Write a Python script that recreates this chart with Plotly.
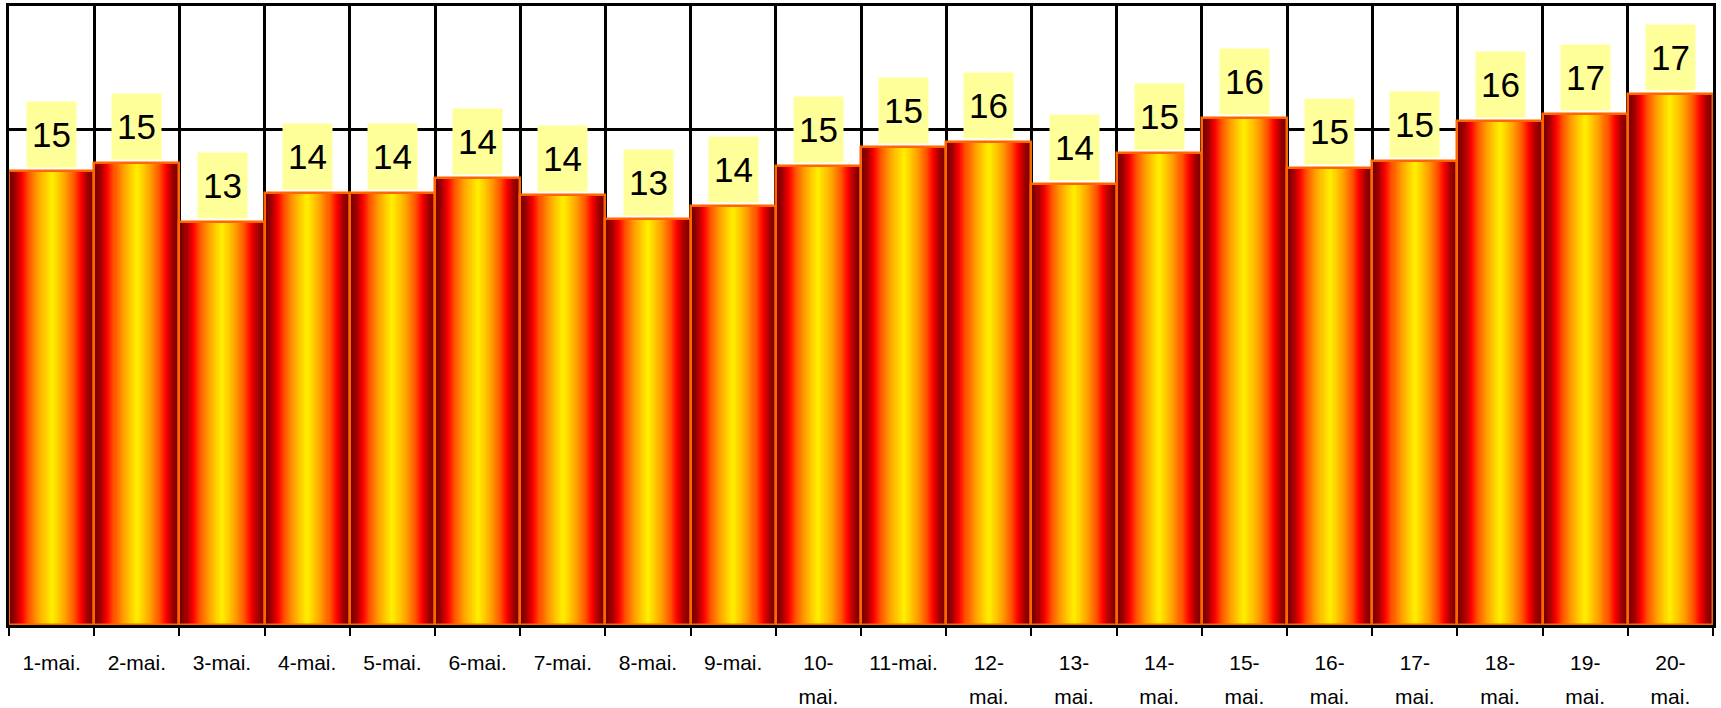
import plotly.graph_objects as go

# ---- data ----
days = [f"{i}-mai." for i in range(1, 21)]
tick_text = ["1-mai.", "2-mai.", "3-mai.", "4-mai.", "5-mai.", "6-mai.", "7-mai.",
             "8-mai.", "9-mai.", "10-<br>mai.", "11-mai.", "12-<br>mai.", "13-<br>mai.",
             "14-<br>mai.", "15-<br>mai.", "16-<br>mai.", "17-<br>mai.", "18-<br>mai.",
             "19-<br>mai.", "20-<br>mai."]
values = [14.67, 14.93, 13.02, 13.97, 13.95, 14.45, 13.88, 13.11, 13.54, 14.83,
          15.44, 15.61, 14.24, 15.26, 16.38, 14.75, 15.0, 16.30, 16.52, 17.17]

# gradient stops: distance from bar centre (0) to edge (1)
grad_stops = [(0.0, (255, 242, 0)), (0.15, (255, 208, 0)), (0.35, (255, 153, 0)),
              (0.55, (255, 80, 0)), (0.70, (255, 0, 0)), (0.85, (165, 0, 0)),
              (1.0, (110, 0, 0))]


def grad_color(d):
    for (d0, c0), (d1, c1) in zip(grad_stops[:-1], grad_stops[1:]):
        if d0 <= d <= d1:
            t = (d - d0) / (d1 - d0)
            c = [round(a + (b - a) * t) for a, b in zip(c0, c1)]
            return f"rgb({c[0]},{c[1]},{c[2]})"
    c = grad_stops[-1][1]
    return f"rgb({c[0]},{c[1]},{c[2]})"


fig = go.Figure()
N = 42
for k in range(N):
    frac = 1 - k / N  # width fraction of the bar
    fig.add_trace(go.Bar(
        x=days, y=values, width=frac,
        marker=dict(color=grad_color(frac), line=dict(width=0)),
        hoverinfo="skip", showlegend=False,
    ))
# outline
fig.add_trace(go.Bar(
    x=days, y=values, width=1.0,
    marker=dict(color="rgba(0,0,0,0)", line=dict(color="#FF6600", width=2.5)),
    hovertemplate="%{x}: %{y:.1f}<extra></extra>", showlegend=False,
))

# data labels
for d, v in zip(days, values):
    fig.add_annotation(
        x=d, y=v, yanchor="bottom", yshift=3, showarrow=False,
        text=f"{v:.0f}", width=49, height=65, borderpad=0,
        bgcolor="#FFFF99", valign="middle",
        font=dict(family="Liberation Sans, Arial", size=35, color="black"),
    )

label_font = "Liberation Sans, Arial"
fig.update_layout(
    barmode="overlay", bargap=0,
    width=1721, height=708,
    margin=dict(l=9, r=8, t=6, b=83),
    paper_bgcolor="white", plot_bgcolor="white",
    xaxis=dict(
        type="category", tickmode="array", tickvals=days,
        ticktext=[f"<span style='font-size:21px'>{t}</span>" for t in tick_text],
        tickson="boundaries", ticks="outside", ticklen=8, tickwidth=2, tickcolor="black",
        showgrid=True, gridcolor="black", gridwidth=2.5,
        showline=True, linecolor="black", linewidth=2.5, mirror=True,
        tickfont=dict(family=label_font, size=26, color="black"),
        ticklabelstandoff=11, automargin=False,
    ),
    yaxis=dict(
        range=[0, 20], dtick=4, showticklabels=False, ticks="",
        showgrid=True, gridcolor="black", gridwidth=2.5, zeroline=False,
        showline=True, linecolor="black", linewidth=2.5, mirror=True,
        layer="below traces", automargin=False,
    ),
)

fig.write_html("out.html", config={"displayModeBar": False},
               post_script="document.body.style.margin='0px';")
